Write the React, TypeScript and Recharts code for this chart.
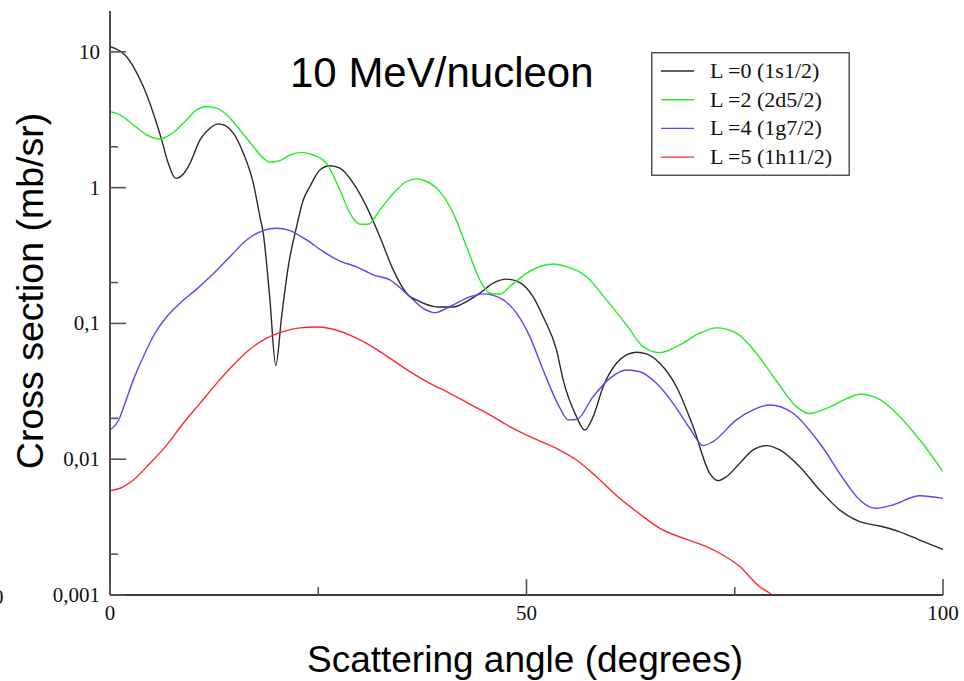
import React from 'react';
import { LineChart, Line, XAxis, YAxis, Legend } from 'recharts';

// ---- data ----
const l0Angles = [0, 0.6, 1.8, 2.8, 4.0, 5.2, 6.2, 7.0, 7.9, 8.8, 9.6, 10.8, 12.0, 13.0, 13.8, 14.8, 16.0, 17.2, 18.0, 18.4, 19.2, 19.9, 20.6, 21.4, 22.4, 23.2, 24.0, 25.2, 26.4, 27.6, 29.2, 30.8, 32.4, 34.0, 35.6, 37.2, 39.6, 41.2, 42.8, 44.4, 46.0, 47.6, 49.2, 50.8, 52.0, 53.6, 54.4, 56.0, 57.0, 58.0, 59.2, 60.8, 62.0, 63.2, 64.4, 66.0, 68.0, 70.0, 72.0, 73.0, 74.0, 75.6, 77.2, 78.8, 80.4, 82.8, 85.2, 87.6, 90.0, 92.4, 94.8, 97.2, 100];
const l0Values = [10.9, 10.6, 9.5, 7.8, 5.55, 3.53, 2.25, 1.51, 1.17, 1.26, 1.51, 2.25, 2.74, 2.95, 2.87, 2.52, 1.80, 1.08, 0.61, 0.46, 0.149, 0.049, 0.112, 0.262, 0.516, 0.81, 1.02, 1.35, 1.45, 1.39, 1.08, 0.725, 0.435, 0.248, 0.167, 0.145, 0.132, 0.132, 0.145, 0.167, 0.198, 0.212, 0.200, 0.157, 0.112, 0.0638, 0.0384, 0.0206, 0.0164, 0.0206, 0.0342, 0.0509, 0.0586, 0.0614, 0.0596, 0.0509, 0.0342, 0.0174, 0.00787, 0.00695, 0.00743, 0.00933, 0.0117, 0.0126, 0.0117, 0.00881, 0.00593, 0.00423, 0.00347, 0.00322, 0.00292, 0.00254, 0.00217];

const l2Angles = [0, 1.2, 2.8, 4.4, 6.0, 7.2, 8.8, 10.4, 11.6, 12.8, 14.0, 15.6, 17.2, 18.4, 19.2, 20.4, 21.6, 23.0, 24.4, 26.0, 27.6, 28.8, 30.0, 31.0, 32.4, 34.4, 35.6, 36.8, 38.0, 39.6, 41.2, 42.8, 44.4, 45.6, 46.8, 48.0, 50.0, 52.0, 53.2, 54.8, 57.2, 59.6, 62.0, 64.0, 66.0, 68.4, 70.8, 72.8, 75.2, 77.6, 80.0, 82.4, 84.0, 86.0, 88.4, 90.0, 92.4, 94.4, 97.2, 100];
const l2Values = [3.63, 3.44, 2.90, 2.45, 2.28, 2.45, 2.98, 3.74, 3.96, 3.85, 3.44, 2.66, 2.01, 1.65, 1.54, 1.58, 1.74, 1.82, 1.74, 1.51, 0.96, 0.649, 0.538, 0.538, 0.686, 0.96, 1.11, 1.16, 1.11, 0.935, 0.649, 0.368, 0.209, 0.167, 0.164, 0.187, 0.234, 0.267, 0.274, 0.262, 0.221, 0.149, 0.0976, 0.0675, 0.061, 0.0695, 0.0848, 0.0927, 0.0848, 0.0603, 0.0377, 0.0244, 0.0217, 0.0237, 0.0278, 0.0301, 0.0276, 0.0218, 0.0139, 0.0081];

const l4Angles = [0, 1.0, 1.8, 2.8, 4.0, 5.4, 6.8, 8.4, 10.4, 12.4, 14.4, 16.4, 18.4, 20.0, 21.6, 23.6, 25.6, 27.6, 29.6, 31.6, 33.6, 36.0, 37.6, 39.0, 40.8, 43.2, 44.8, 46.8, 48.8, 50.4, 52.0, 54.0, 55.0, 56.0, 58.0, 60.0, 62.0, 63.6, 65.6, 67.6, 69.6, 71.2, 72.4, 75.2, 77.2, 79.2, 82.0, 85.2, 88.4, 90.0, 92.0, 94.0, 97.2, 100];
const l4Values = [0.0164, 0.0192, 0.0258, 0.0384, 0.0569, 0.0847, 0.112, 0.141, 0.179, 0.232, 0.310, 0.412, 0.483, 0.503, 0.483, 0.412, 0.338, 0.288, 0.261, 0.228, 0.209, 0.157, 0.129, 0.120, 0.133, 0.157, 0.165, 0.154, 0.119, 0.080, 0.0454, 0.0239, 0.0195, 0.0196, 0.0289, 0.0394, 0.0454, 0.0441, 0.0362, 0.0258, 0.0169, 0.0126, 0.0135, 0.0195, 0.0231, 0.0251, 0.0218, 0.0131, 0.00665, 0.00501, 0.00435, 0.00461, 0.00538, 0.00515];

const l5Angles = [0, 1.2, 2.8, 4.8, 6.8, 8.8, 10.8, 12.8, 14.8, 16.8, 18.8, 20.8, 22.8, 24.8, 26.8, 29.2, 32.0, 33.6, 36.0, 38.4, 40.8, 43.2, 45.6, 48.0, 50.8, 53.6, 56.0, 58.4, 61.0, 63.6, 66.0, 68.8, 71.6, 73.2, 75.6, 78.0, 79.2, 80.5];
const l5Values = [0.00586, 0.00611, 0.00703, 0.00933, 0.0127, 0.0184, 0.0258, 0.0362, 0.0494, 0.0645, 0.0778, 0.0870, 0.0927, 0.0942, 0.0906, 0.080, 0.0645, 0.0555, 0.0442, 0.0362, 0.0306, 0.0255, 0.0212, 0.0174, 0.0143, 0.0120, 0.00987, 0.00743, 0.00527, 0.00395, 0.0031, 0.00262, 0.00227, 0.00203, 0.00162, 0.00115, 0.00103, 0.00088];

const seriesNames = ['L =0 (1s1/2)', 'L =2 (2d5/2)', 'L =4 (1g7/2)', 'L =5 (1h11/2)'];
const seriesColors = ['#2a2a2a', '#22ee22', '#6a3cf6', '#ff2a2a'];

const xTicks = [0, 25, 50, 75, 100];
const xTickLabels = ['0', '', '50', '', '100'];
const yTicks = [0.001, 0.002, 0.01, 0.02, 0.1, 0.2, 1, 2, 10];
const yTickLabels = ['0,001', '', '0,01', '', '0,1', '', '1', '', '10'];

const titleText = '10 MeV/nucleon';
const xTitle = 'Scattering angle (degrees)';
const yTitle = 'Cross section (mb/sr)';

const toRows = (a: number[], v: number[]) => a.map((x, i) => ({ angle: x, value: v[i] }));
const series = [
  toRows(l0Angles, l0Values),
  toRows(l2Angles, l2Values),
  toRows(l4Angles, l4Values),
  toRows(l5Angles, l5Values),
];

// ---- styling ----
const FRAME = '#3c3c3c';
const TICK = '#555';
const SERIF = '"Liberation Serif", "Times New Roman", serif';
const SANS = '"Liberation Sans", Arial, sans-serif';

const makeYTick = (side: 'left' | 'right') => (props: any) => {
  const { x, y, payload } = props;
  const idx = yTicks.indexOf(payload.value);
  const label = idx >= 0 ? yTickLabels[idx] : '';
  const major = label !== '';
  const len = major ? 16 : 8;
  const dir = side === 'left' ? 1 : -1;
  return (
    <g>
      <line x1={x} x2={x + dir * len} y1={y} y2={y} stroke={TICK} strokeWidth={1.6} />
      {side === 'left' && major ? (
        <text x={x - 10} y={y + 7} textAnchor="end" fontFamily={SERIF} fontSize={21} fill="#111">
          {label}
        </text>
      ) : null}
    </g>
  );
};

const makeXTick = (side: 'bottom' | 'top') => (props: any) => {
  const { x, y, payload } = props;
  const idx = xTicks.indexOf(payload.value);
  const label = idx >= 0 ? xTickLabels[idx] : '';
  const major = label !== '';
  const len = major ? 16 : 8;
  const dir = side === 'bottom' ? -1 : 1;
  return (
    <g>
      <line x1={x} x2={x} y1={y} y2={y + dir * len} stroke={TICK} strokeWidth={1.6} />
      {side === 'bottom' && major ? (
        <text x={x} y={y + 25} textAnchor="middle" fontFamily={SERIF} fontSize={21} fill="#111">
          {label}
        </text>
      ) : null}
    </g>
  );
};

const LegendBox = (props: any) => {
  const payload = props.payload || [];
  return (
    <svg width={199} height={124} style={{ display: 'block' }}>
      <rect x={0.75} y={0.75} width={197.5} height={122.5} fill="#fff" stroke="#555" strokeWidth={1.5} />
      {payload.map((p: any, i: number) => {
        const cy = 19 + i * 28.7;
        return (
          <g key={i}>
            <line x1={10} x2={43} y1={cy} y2={cy} stroke={p.color} strokeWidth={1.4} />
            <text x={59} y={cy + 7} fontFamily={SERIF} fontSize={22} fill="#111">
              {p.value}
            </text>
          </g>
        );
      })}
    </svg>
  );
};

export default function App() {
  return (
    <div style={{ position: 'absolute', left: 0, top: 0, width: 964, height: 681, background: '#fff', overflow: 'hidden' }}>
      <LineChart width={964} height={681} margin={{ top: 11, right: 21, bottom: 0, left: 0 }}>
        <XAxis
          xAxisId="b"
          type="number"
          dataKey="angle"
          domain={[0, 100]}
          ticks={xTicks}
          interval={0}
          height={86}
          tickSize={0}
          tickMargin={0}
          axisLine={{ stroke: FRAME, strokeWidth: 1.8 }}
          tickLine={false}
          tick={makeXTick('bottom')}
          allowDataOverflow
        />
        <XAxis
          xAxisId="t"
          orientation="top"
          type="number"
          dataKey="angle"
          domain={[0, 100]}
          ticks={xTicks}
          interval={0}
          height={0}
          tickSize={0}
          tickMargin={0}
          axisLine={{ stroke: FRAME, strokeWidth: 1.8 }}
          tickLine={false}
          tick={makeXTick('top')}
          allowDataOverflow
        />
        <YAxis
          yAxisId="l"
          scale="log"
          type="number"
          domain={[0.001, 20]}
          ticks={yTicks}
          interval={0}
          width={110}
          tickSize={0}
          tickMargin={0}
          axisLine={{ stroke: FRAME, strokeWidth: 1.8 }}
          tickLine={false}
          tick={makeYTick('left')}
          allowDataOverflow
        />
        <YAxis
          yAxisId="r"
          orientation="right"
          scale="log"
          type="number"
          domain={[0.001, 20]}
          ticks={yTicks}
          interval={0}
          width={0}
          tickSize={0}
          tickMargin={0}
          axisLine={{ stroke: FRAME, strokeWidth: 1.8 }}
          tickLine={false}
          tick={makeYTick('right')}
          allowDataOverflow
        />
        {series.map((d, i) => (
          <Line
            key={i}
            xAxisId="b"
            yAxisId="l"
            data={d}
            dataKey="value"
            name={seriesNames[i]}
            type="monotone"
            stroke={seriesColors[i]}
            strokeWidth={1.4}
            dot={false}
            activeDot={false}
            isAnimationActive={false}
            legendType="line"
          />
        ))}
        <Legend
          layout="horizontal"
          verticalAlign="middle"
          align="center"
          content={LegendBox}
          wrapperStyle={{ left: 651, top: 52, width: 199, height: 124, position: 'absolute' }}
        />
      </LineChart>
      <svg width={964} height={681} style={{ position: 'absolute', left: 0, top: 0, pointerEvents: 'none' }}>
        <text x={290} y={87} fontFamily={SANS} fontSize={42} fill="#000">{titleText}</text>
        <text x={525} y={672} textAnchor="middle" fontFamily={SANS} fontSize={37} fill="#000">{xTitle}</text>
        <text x={43} y={291} textAnchor="middle" fontFamily={SANS} fontSize={37.5} fill="#000" transform="rotate(-90, 43, 291)">{yTitle}</text>
        <text x={-7} y={604} fontFamily={SERIF} fontSize={21} fill="#111">0</text>
      </svg>
    </div>
  );
}
